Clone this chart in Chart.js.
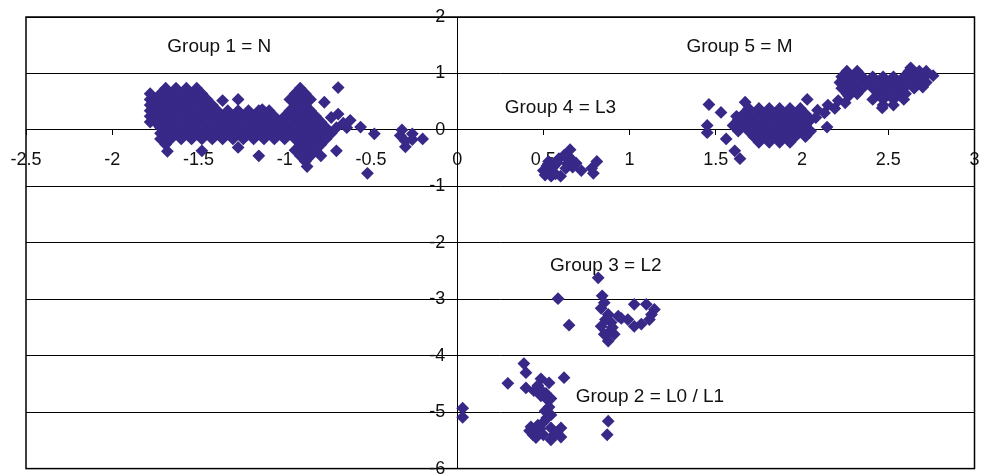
<!DOCTYPE html>
<html><head><meta charset="utf-8">
<script src="https://cdn.jsdelivr.net/npm/chart.js@4.4.1/dist/chart.umd.min.js"></script>
<style>html,body{margin:0;padding:0;background:#fff;overflow:hidden}</style>
</head><body>
<canvas id="c" width="982" height="475" style="display:block;width:982px;height:475px"></canvas>
<script>
// ---- tick values and labels ----
const xTicks = [-2.5, -2, -1.5, -1, -0.5, 0, 0.5, 1, 1.5, 2, 2.5, 3];
const xTickLabels = ['-2.5', '-2', '-1.5', '-1', '-0.5', '0', '0.5', '1', '1.5', '2', '2.5', '3'];
const yTicks = [2, 1, 0, -1, -2, -3, -4, -5, -6];
const yTickLabels = ['2', '1', '0', '-1', '-2', '-3', '-4', '-5', '-6'];

// ---- group annotation texts and their anchors (data units) ----
const groupLabels = ['Group 1 = N', 'Group 2 = L0 / L1', 'Group 3 = L2', 'Group 4 = L3', 'Group 5 = M'];
const labelX = [-1.379, 1.118, 0.862, 0.599, 1.637];
const labelY = [1.476, -4.72, -2.41, 0.39, 1.476];

// ---- series values [x, y] ----
const groupN = [
[-1.69,0.74],[-1.63,0.74],[-1.57,0.74],[-1.51,0.74],[-0.91,0.74],
[-1.78,0.64],[-1.72,0.64],[-1.66,0.64],[-1.60,0.64],[-1.54,0.64],[-1.48,0.64],[-0.94,0.64],[-0.88,0.64],
[-1.78,0.54],[-1.75,0.54],[-1.69,0.54],[-1.63,0.54],[-1.57,0.54],[-1.51,0.54],[-1.45,0.54],[-0.97,0.54],[-0.91,0.54],[-0.85,0.54],
[-1.78,0.44],[-1.72,0.44],[-1.66,0.44],[-1.60,0.44],[-1.54,0.44],[-1.48,0.44],[-1.42,0.44],[-0.94,0.44],[-0.88,0.44],
[-1.78,0.34],[-1.75,0.34],[-1.69,0.34],[-1.63,0.34],[-1.57,0.34],[-1.51,0.34],[-1.45,0.34],[-1.39,0.34],[-1.33,0.34],
[-1.27,0.34],[-1.21,0.34],[-1.15,0.34],[-1.09,0.34],[-0.97,0.34],[-0.91,0.34],[-0.85,0.34],
[-1.78,0.24],[-1.72,0.24],[-1.66,0.24],[-1.60,0.24],[-1.54,0.24],[-1.48,0.24],[-1.42,0.24],[-1.36,0.24],[-1.30,0.24],
[-1.24,0.24],[-1.18,0.24],[-1.12,0.24],[-1.06,0.24],[-1.00,0.24],[-0.94,0.24],[-0.88,0.24],[-0.82,0.24],
[-1.78,0.14],[-1.75,0.14],[-1.69,0.14],[-1.63,0.14],[-1.57,0.14],[-1.51,0.14],[-1.45,0.14],[-1.39,0.14],[-1.33,0.14],
[-1.27,0.14],[-1.21,0.14],[-1.15,0.14],[-1.09,0.14],[-1.03,0.14],[-0.97,0.14],[-0.91,0.14],[-0.85,0.14],[-0.79,0.14],
[-1.72,0.04],[-1.66,0.04],[-1.60,0.04],[-1.54,0.04],[-1.48,0.04],[-1.42,0.04],[-1.36,0.04],[-1.30,0.04],[-1.24,0.04],
[-1.18,0.04],[-1.12,0.04],[-1.06,0.04],[-1.00,0.04],[-0.94,0.04],[-0.88,0.04],[-0.82,0.04],[-0.76,0.04],[-0.70,0.04],[-0.64,0.04],
[-1.72,-0.06],[-1.69,-0.06],[-1.63,-0.06],[-1.57,-0.06],[-1.51,-0.06],[-1.45,-0.06],[-1.39,-0.06],[-1.33,-0.06],[-1.27,-0.06],
[-1.21,-0.06],[-1.15,-0.06],[-1.09,-0.06],[-1.03,-0.06],[-0.97,-0.06],[-0.91,-0.06],[-0.85,-0.06],[-0.79,-0.06],[-0.73,-0.06],
[-1.72,-0.16],[-1.66,-0.16],[-1.60,-0.16],[-1.54,-0.16],[-1.48,-0.16],[-1.42,-0.16],[-1.36,-0.16],[-1.30,-0.16],[-1.24,-0.16],
[-1.18,-0.16],[-1.12,-0.16],[-1.06,-0.16],[-1.00,-0.16],[-0.94,-0.16],[-0.88,-0.16],[-0.82,-0.16],[-0.76,-0.16],
[-1.69,-0.26],[-0.91,-0.26],[-0.85,-0.26],[-0.79,-0.26],
[-0.94,-0.36],[-0.88,-0.36],[-0.82,-0.36],
[-0.91,-0.46],[-0.85,-0.46],[-0.79,-0.46],
[-0.88,-0.56],[-0.87,-0.65],
[-1.68,-0.38],[-1.48,-0.37],[-1.27,-0.31],[-1.15,-0.46],[-1.36,0.52],[-1.27,0.54],[-1.13,0.36],
[-0.70,-0.37],[-0.69,0.75],[-0.77,0.49],[-0.69,0.28],[-0.73,0.22],[-0.62,0.17],[-0.66,0.12],[-0.56,0.05],
[-0.48,-0.07],[-0.52,-0.77],
[-0.32,0.00],[-0.26,-0.07],[-0.20,-0.16],[-0.30,-0.30],[-0.26,-0.17],[-0.30,-0.20],[-0.33,-0.10]
];
const groupL01 = [
[0.032,-4.93],[0.032,-5.09],[0.387,-4.14],[0.399,-4.30],[0.294,-4.49],[0.486,-4.41],[0.62,-4.39],
[0.399,-4.57],[0.445,-4.62],[0.486,-4.71],[0.527,-4.79],[0.533,-4.48],[0.468,-4.53],[0.515,-4.67],
[0.544,-4.76],[0.533,-4.91],[0.544,-5.05],[0.503,-5.17],[0.468,-5.23],[0.428,-5.26],[0.44,-5.40],
[0.474,-5.35],[0.457,-5.45],[0.544,-5.49],[0.562,-5.40],[0.602,-5.28],[0.602,-5.44],[0.544,-5.28],
[0.876,-5.16],[0.87,-5.40],
[0.49,-4.62],[0.51,-4.98],[0.52,-5.10],[0.48,-5.30],[0.50,-5.40],[0.58,-5.35],[0.42,-5.33]
];
const groupL2 = [
[0.818,-2.62],[0.585,-2.99],[0.841,-2.94],[0.649,-3.46],[0.835,-3.16],[0.853,-3.06],[0.876,-3.27],
[0.934,-3.30],[0.835,-3.48],[0.876,-3.60],[0.876,-3.74],[0.911,-3.62],[0.853,-3.62],[0.99,-3.36],
[1.027,-3.09],[1.097,-3.09],[1.144,-3.18],[1.115,-3.36],[1.068,-3.44],[1.027,-3.48],[0.952,-3.34],
[0.893,-3.41],[1.127,-3.27],[0.86,-3.36],[0.90,-3.50]
];
const groupL3 = [
[0.655,-0.35],[0.59,-0.51],[0.53,-0.56],[0.50,-0.72],[0.545,-0.82],[0.60,-0.82],[0.63,-0.68],
[0.69,-0.59],[0.72,-0.72],[0.78,-0.68],[0.81,-0.56],[0.79,-0.77],[0.56,-0.65],[0.66,-0.51],
[0.62,-0.45],[0.51,-0.80],
[0.55,-0.75],[0.58,-0.58],[0.64,-0.60],[0.57,-0.78],[0.67,-0.66],[0.52,-0.64]
];
const groupM = [
[1.46,0.45],[1.45,0.08],[1.45,-0.05],[1.53,0.31],[1.56,-0.16],[1.61,-0.37],[1.64,-0.51],[2.03,0.54],[2.145,0.05],
[1.67,0.49],[1.62,0.24],
[1.69,0.38],[1.75,0.38],[1.81,0.38],[1.87,0.38],[1.93,0.38],[1.99,0.38],
[1.66,0.28],[1.72,0.28],[1.78,0.28],[1.84,0.28],[1.90,0.28],[1.96,0.28],[2.02,0.28],
[1.63,0.18],[1.69,0.18],[1.75,0.18],[1.81,0.18],[1.87,0.18],[1.93,0.18],[1.99,0.18],[2.05,0.18],
[1.60,0.08],[1.66,0.08],[1.72,0.08],[1.78,0.08],[1.84,0.08],[1.90,0.08],[1.96,0.08],[2.02,0.08],
[1.63,-0.02],[1.69,-0.02],[1.75,-0.02],[1.81,-0.02],[1.87,-0.02],[1.93,-0.02],[1.99,-0.02],[2.05,-0.02],
[1.72,-0.12],[1.78,-0.12],[1.84,-0.12],[1.90,-0.12],[1.96,-0.12],[2.02,-0.12],
[1.75,-0.22],[1.81,-0.22],[1.87,-0.22],[1.93,-0.22],
[2.08,0.22],[2.09,0.35],[2.13,0.30],[2.15,0.44],[2.19,0.38],[2.21,0.52],[2.25,0.48],[2.27,0.60],
[2.63,1.10],
[2.26,1.04],[2.32,1.04],[2.62,1.04],[2.68,1.04],[2.72,1.04],
[2.23,0.94],[2.29,0.94],[2.35,0.94],[2.41,0.94],[2.47,0.94],[2.53,0.94],[2.59,0.94],[2.65,0.94],[2.71,0.94],[2.76,0.96],
[2.22,0.84],[2.26,0.84],[2.32,0.84],[2.38,0.84],[2.44,0.84],[2.50,0.84],[2.56,0.84],[2.62,0.84],[2.68,0.84],[2.72,0.84],
[2.23,0.74],[2.29,0.74],[2.35,0.74],[2.41,0.74],[2.47,0.74],[2.53,0.74],[2.59,0.74],[2.65,0.74],[2.70,0.76],
[2.26,0.64],[2.32,0.64],[2.44,0.64],[2.50,0.64],[2.56,0.64],[2.60,0.64],
[2.41,0.54],[2.47,0.54],[2.53,0.54],[2.59,0.54],
[2.47,0.44],[2.53,0.44],[2.465,0.39]
];

const MARK = '#382888';
const FONT = "'Liberation Sans', Arial, sans-serif";
const toPts = arr => arr.map(p => ({x: p[0], y: p[1]}));
const mkSet = (name, arr) => ({
  label: name, data: toPts(arr),
  pointStyle: 'rectRot', pointRadius: 6.4, pointBorderWidth: 0,
  backgroundColor: MARK, borderColor: MARK, showLine: false
});

const frame = {
  id: 'frame',
  beforeDatasetsDraw(chart) {
    const {ctx, chartArea: a, scales} = chart;
    ctx.save();
    ctx.strokeStyle = '#000';
    ctx.lineWidth = 1.5;
    ctx.strokeRect(a.left, a.top, a.right - a.left, a.bottom - a.top);
    // y tick labels, left of the vertical axis
    ctx.fillStyle = '#111';
    ctx.font = '18px ' + FONT;
    ctx.textAlign = 'right';
    ctx.textBaseline = 'middle';
    const ax = scales.x.getPixelForValue(0);
    yTicks.forEach((v, i) => ctx.fillText(yTickLabels[i], ax - 12, scales.y.getPixelForValue(v)));
    // group annotations
    ctx.font = '19px ' + FONT;
    ctx.textAlign = 'center';
    groupLabels.forEach((t, i) => {
      ctx.fillText(t, scales.x.getPixelForValue(labelX[i]), scales.y.getPixelForValue(labelY[i]));
    });
    ctx.restore();
  }
};

const zeroPad = s => { s.paddingLeft = 0; s.paddingRight = 0; s.paddingTop = 0; s.paddingBottom = 0; };

new Chart(document.getElementById('c'), {
  type: 'scatter',
  data: { datasets: [
    mkSet('Group 1', groupN), mkSet('Group 2', groupL01), mkSet('Group 3', groupL2),
    mkSet('Group 4', groupL3), mkSet('Group 5', groupM)
  ]},
  options: {
    responsive: false, animation: false, devicePixelRatio: 1, events: [],
    layout: { padding: { left: 26, right: 7.5, top: 17, bottom: 1.2 } },
    plugins: { legend: { display: false }, tooltip: { enabled: false } },
    scales: {
      x: {
        type: 'linear', min: -2.5, max: 3, position: { y: 0 },
        afterBuildTicks: s => { s.ticks = xTicks.map(v => ({ value: v })); },
        afterFit: zeroPad,
        grid: { drawOnChartArea: false, drawTicks: true, tickLength: 5, color: '#000', lineWidth: 1 },
        border: { display: true, color: '#000', width: 1 },
        ticks: { autoSkip: false, maxRotation: 0, color: '#111', padding: 14,
                 font: { family: FONT, size: 18 }, callback: (v, i) => xTickLabels[i] }
      },
      y: {
        type: 'linear', min: -6, max: 2, position: { x: 0 },
        afterBuildTicks: s => { s.ticks = yTicks.map(v => ({ value: v })); },
        afterFit: zeroPad,
        grid: { drawOnChartArea: true, drawTicks: true, tickLength: 5, color: '#000', lineWidth: 1 },
        border: { display: true, color: '#000', width: 1 },
        ticks: { display: false }
      }
    }
  },
  plugins: [frame]
});
</script>
</body></html>
